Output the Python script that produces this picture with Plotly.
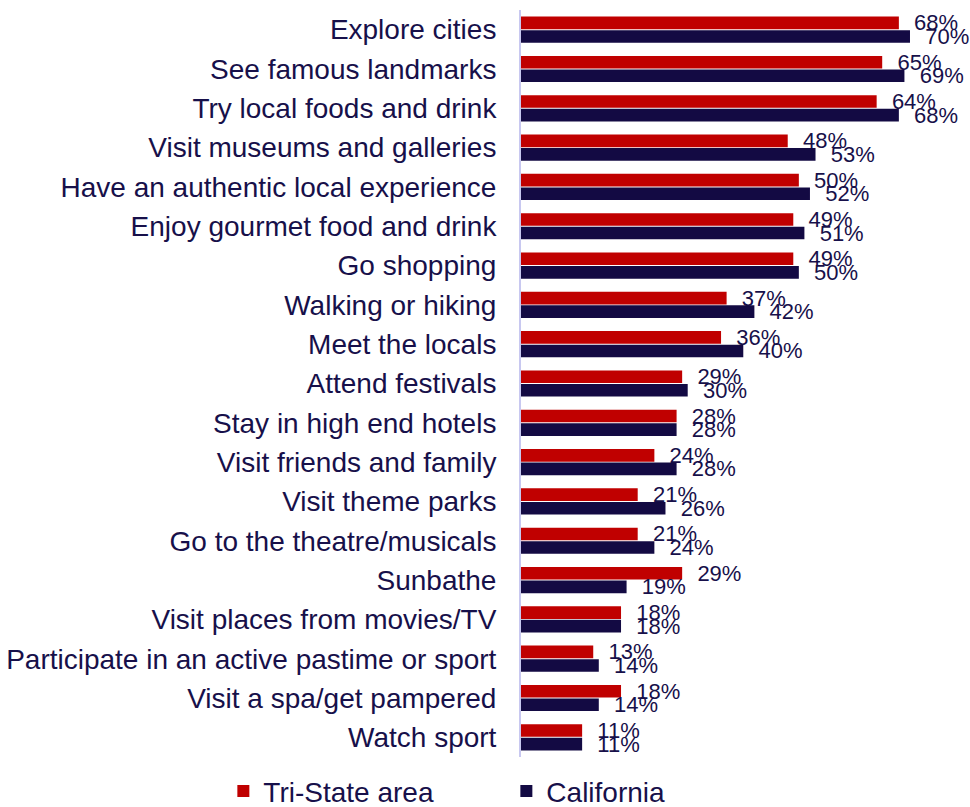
import plotly.graph_objects as go

categories = [
    "Explore cities", "See famous landmarks", "Try local foods and drink",
    "Visit museums and galleries", "Have an authentic local experience",
    "Enjoy gourmet food and drink", "Go shopping", "Walking or hiking",
    "Meet the locals", "Attend festivals", "Stay in high end hotels",
    "Visit friends and family", "Visit theme parks", "Go to the theatre/musicals",
    "Sunbathe", "Visit places from movies/TV",
    "Participate in an active pastime or sport", "Visit a spa/get pampered",
    "Watch sport",
]
tri_state = [68, 65, 64, 48, 50, 49, 49, 37, 36, 29, 28, 24, 21, 21, 29, 18, 13, 18, 11]
california = [70, 69, 68, 53, 52, 51, 50, 42, 40, 30, 28, 28, 26, 24, 19, 18, 14, 14, 11]

RED = "#C00000"
NAVY = "#130A43"
TEXT = "#17104A"
FONT = "Liberation Sans, Arial, sans-serif"

fig = go.Figure()
for name, vals, col in [("Tri-State area", tri_state, RED), ("California", california, NAVY)]:
    fig.add_trace(go.Bar(
        y=categories, x=vals, name=name, orientation="h",
        marker=dict(color=col, line=dict(width=0)),
        text=["\u00a0\u00a0" + f"{v}%" for v in vals],
        textposition="outside", constraintext="none", cliponaxis=False,
        textfont=dict(family=FONT, size=22, color=TEXT),
    ))

fig.update_layout(
    width=970, height=807,
    margin=dict(l=521, r=10, t=10, b=50, autoexpand=False),
    paper_bgcolor="white", plot_bgcolor="white",
    barmode="group", bargap=0.31, bargroupgap=0.07,
    font=dict(family=FONT, color=TEXT),
    xaxis=dict(range=[0, 79], visible=False, showgrid=False, zeroline=False),
    yaxis=dict(autorange="reversed", showgrid=False, zeroline=False,
               showline=True, linecolor="#C8C8F0", linewidth=2,
               ticks="", ticklabelstandoff=17, automargin=False,
               tickfont=dict(family=FONT, size=28, color=TEXT)),
    legend=dict(orientation="h", xref="paper", yref="paper",
                x=-0.678, y=-0.0125, xanchor="left", yanchor="top",
                entrywidth=238, entrywidthmode="pixels",
                font=dict(family=FONT, size=28, color=TEXT),
                itemwidth=30),
    showlegend=True,
)

fig.write_html("out.html", config={"displayModeBar": False},
               post_script="document.body.style.margin='0';document.body.style.overflow='hidden';")
